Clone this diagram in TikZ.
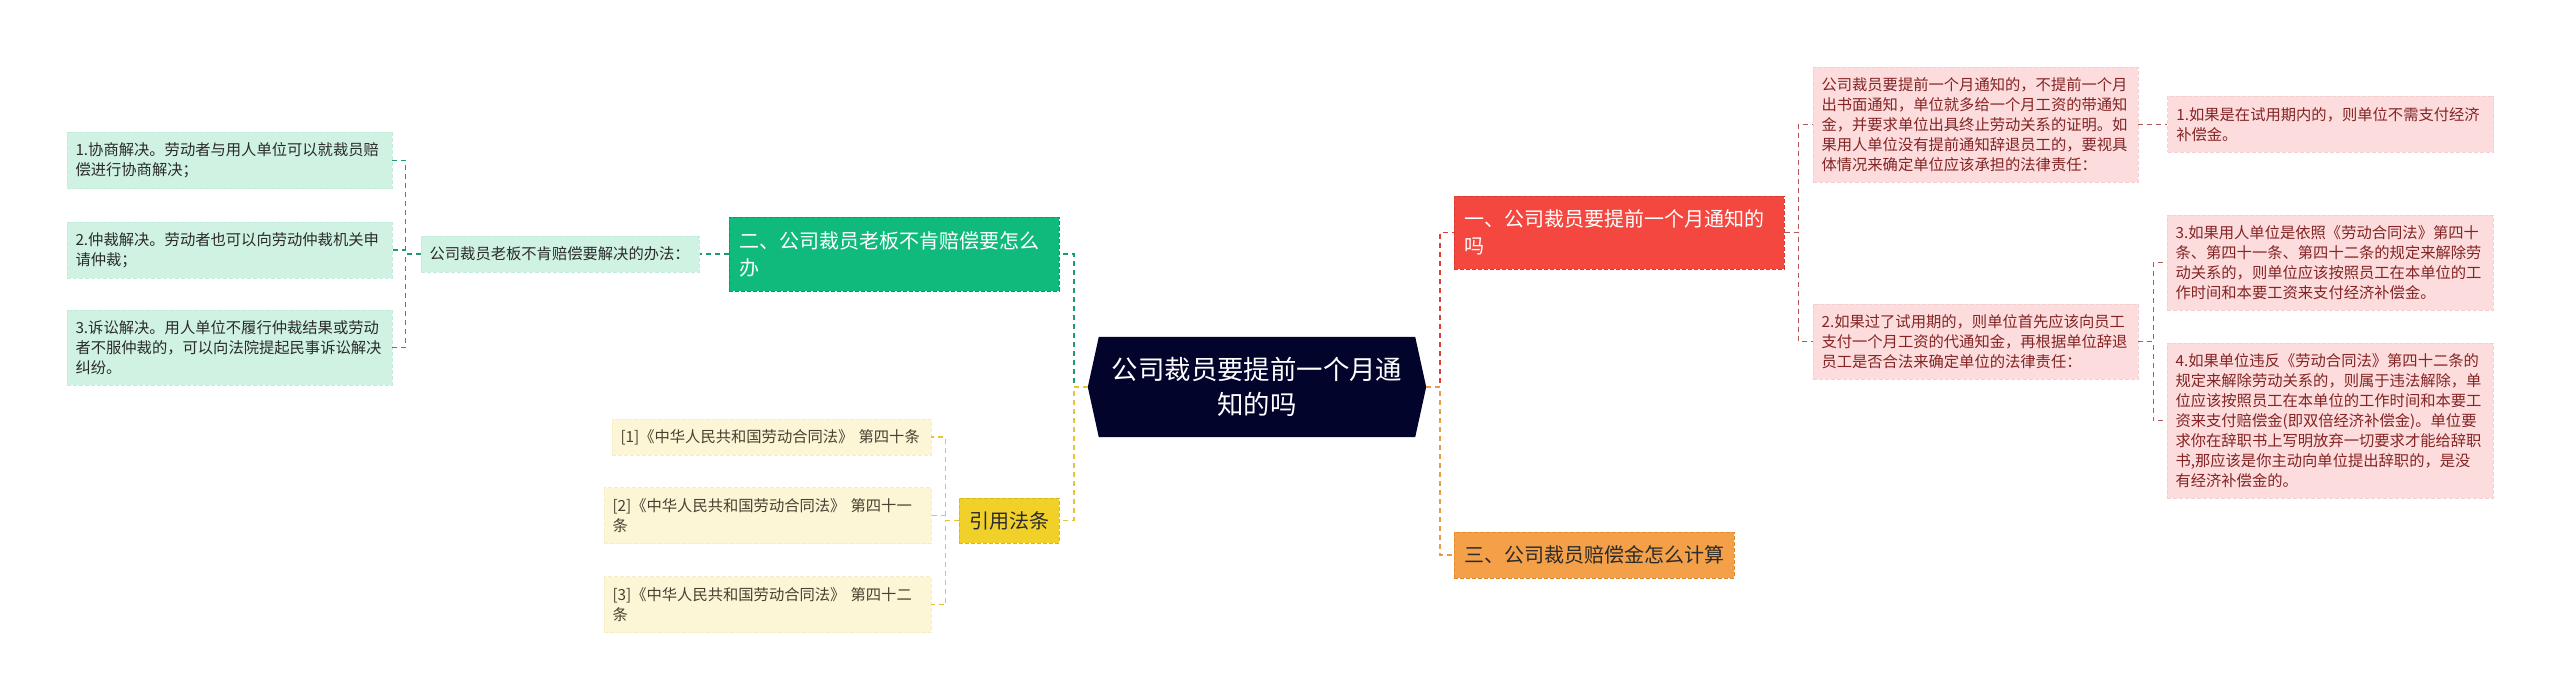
\documentclass[tikz,border=0pt]{standalone}
\usepackage{fontspec}
\setmainfont{Noto Sans CJK SC}
\usepackage{tikz}
\usetikzlibrary{positioning,backgrounds}
\usepackage{xcolor}
\definecolor{hubnavy}{HTML}{02042B}
\definecolor{topicred}{HTML}{F4473F}
\definecolor{topicredline}{HTML}{D63A33}
\definecolor{topicgreen}{HTML}{10BA7C}
\definecolor{topicgreenline}{HTML}{0A9A66}
\definecolor{topicorange}{HTML}{F4A048}
\definecolor{topicorangeline}{HTML}{E08A30}
\definecolor{topicyellow}{HTML}{F2D02A}
\definecolor{topicyellowline}{HTML}{D9B81E}
\definecolor{leafred}{HTML}{FCDCDC}
\definecolor{leafredline}{HTML}{F5CFCF}
\definecolor{leafredtext}{HTML}{842424}
\definecolor{leafgreen}{HTML}{CFF2E3}
\definecolor{leafgreenline}{HTML}{C2EBD9}
\definecolor{leafyellow}{HTML}{FCF5D6}
\definecolor{leafyellowline}{HTML}{F5EDC8}
\definecolor{leafyellowtext}{HTML}{4A4030}
\definecolor{darktext}{HTML}{2B2B2B}
\definecolor{linkred}{HTML}{DC4038}
\definecolor{linkredleaf}{HTML}{B45858}
\definecolor{linkgreen}{HTML}{1A9E6A}
\definecolor{linkyellow}{HTML}{E6C535}
\definecolor{linkorange}{HTML}{E89B4C}
\newcommand{\leaffont}{\fontsize{15.3}{20}\selectfont}
\newcommand{\topicfont}{\fontsize{20}{27}\selectfont}
\newcommand{\hubfont}{\fontsize{26.4}{35}\selectfont}
\tikzset{
  hub/.style={align=center, text=white, font=\hubfont, inner sep=0pt, minimum width=316pt, minimum height=100pt},
  topic/.style={draw, dash pattern=on 4pt off 2pt, line width=1pt, align=left, inner xsep=10pt, inner ysep=0pt, font=\topicfont},
  redtopic/.style={topic, fill=topicred, draw=topicredline, text=white},
  greentopic/.style={topic, fill=topicgreen, draw=topicgreenline, text=white},
  orangetopic/.style={topic, fill=topicorange, draw=topicorangeline, text=darktext},
  yellowtopic/.style={topic, fill=topicyellow, draw=topicyellowline, text=darktext, align=center},
  leaf/.style={draw, dash pattern=on 4pt off 2pt, line width=0.8pt, align=left, inner xsep=8.5pt, inner ysep=0pt, font=\leaffont},
  redleaf/.style={leaf, fill=leafred, draw=leafredline, text=leafredtext},
  greenleaf/.style={leaf, fill=leafgreen, draw=leafgreenline, text=darktext},
  yellowleaf/.style={leaf, fill=leafyellow, draw=leafyellowline, text=leafyellowtext},
  link/.style={dash pattern=on 5pt off 4pt, line width=1.5pt},
  thinlink/.style={dash pattern=on 5pt off 4pt, line width=1.3pt}
}
\begin{document}
\begin{tikzpicture}[x=1pt, y=-1pt]
\useasboundingbox (0,0) rectangle (2560,698);
% centre
\node[hub] (hub) at (1257,387) {公司裁员要提前一个月通\\知的吗};
\begin{scope}[on background layer]
\fill[hubnavy] ([xshift=-11pt]hub.west) -- (hub.north west) -- (hub.north east) -- ([xshift=11pt]hub.east) -- (hub.south east) -- (hub.south west) -- cycle;
\end{scope}
\coordinate (hubW) at ([xshift=-11pt]hub.west);
\coordinate (hubE) at ([xshift=11pt]hub.east);

% right side
\node[redtopic, text width=310pt, minimum width=330pt, minimum height=73pt] (t1) at (1619,232.5) {一、公司裁员要提前一个月通知的\\吗};
\node[orangetopic, text width=260pt, minimum width=280pt, minimum height=46pt] (t3) at (1594,555) {三、公司裁员赔偿金怎么计算};
\node[redleaf, text width=308pt, minimum width=325pt, minimum height=115pt] (a0) at (1975.5,124.5) {公司裁员要提前一个月通知的，不提前一个月\\出书面通知，单位就多给一个月工资的带通知\\金，并要求单位出具终止劳动关系的证明。如\\果用人单位没有提前通知辞退员工的，要视具\\体情况来确定单位应该承担的法律责任：};
\node[redleaf, text width=309pt, minimum width=326pt, minimum height=56pt, right=29pt of a0] (a1) {1.如果是在试用期内的，则单位不需支付经济\\补偿金。};
\node[redleaf, text width=308pt, minimum width=325pt, minimum height=75pt] (b0) at (1975.5,341.5) {2.如果过了试用期的，则单位首先应该向员工\\支付一个月工资的代通知金，再根据单位辞退\\员工是否合法来确定单位的法律责任：};
\node[redleaf, text width=309pt, minimum width=326pt, minimum height=95pt] (b3) at (2330,262.5) {3.如果用人单位是依照《劳动合同法》第四十\\条、第四十一条、第四十二条的规定来解除劳\\动关系的，则单位应该按照员工在本单位的工\\作时间和本要工资来支付经济补偿金。};
\node[redleaf, text width=309pt, minimum width=326pt, minimum height=155pt] (b4) at (2330,420.5) {4.如果单位违反《劳动合同法》第四十二条的\\规定来解除劳动关系的，则属于违法解除，单\\位应该按照员工在本单位的工作时间和本要工\\资来支付赔偿金(即双倍经济补偿金)。单位要\\求你在辞职书上写明放弃一切要求才能给辞职\\书,那应该是你主动向单位提出辞职的，是没\\有经济补偿金的。};

% left side
\node[greentopic, text width=310pt, minimum width=330pt, minimum height=74pt] (t2) at (894,254) {二、公司裁员老板不肯赔偿要怎么\\办};
\node[greenleaf, text width=261pt, minimum width=278pt, minimum height=36pt, left=29pt of t2] (m2) {公司裁员老板不肯赔偿要解决的办法：};
\node[greenleaf, text width=308pt, minimum width=325pt, minimum height=56pt] (s1) at (229.5,160.5) {1.协商解决。劳动者与用人单位可以就裁员赔\\偿进行协商解决；};
\node[greenleaf, text width=308pt, minimum width=325pt, minimum height=56pt] (s2) at (229.5,250) {2.仲裁解决。劳动者也可以向劳动仲裁机关申\\请仲裁；};
\node[greenleaf, text width=308pt, minimum width=325pt, minimum height=75pt] (s3) at (229.5,347.5) {3.诉讼解决。用人单位不履行仲裁结果或劳动\\者不服仲裁的，可以向法院提起民事诉讼解决\\纠纷。};
\node[yellowtopic, minimum width=100pt, minimum height=45pt] (t4) at (1009,520.5) {引用法条};
\node[yellowleaf, text width=302pt, minimum width=319pt, minimum height=36pt] (c1) at (771.5,437) {[1]《中华人民共和国劳动合同法》 第四十条};
\node[yellowleaf, text width=310pt, minimum width=327pt, minimum height=56pt] (c2) at (767.5,515.5) {[2]《中华人民共和国劳动合同法》 第四十一\\条};
\node[yellowleaf, text width=310pt, minimum width=327pt, minimum height=56pt] (c3) at (767.5,604.5) {[3]《中华人民共和国劳动合同法》 第四十二\\条};

% links
\draw[link, linkred] (hubE) -- ++(14,0) |- (t1.west);
\draw[link, linkorange] (hubE) -- ++(14,0) |- (t3.west);
\draw[link, linkgreen] (hubW) -- ++(-14,0) |- (t2.east);
\draw[link, linkyellow] (hubW) -- ++(-14,0) |- (t4.east);
\foreach \n in {a0,b0}
  \draw[thinlink, linkredleaf] (t1.east) -- ++(14,0) |- (\n.west);
\draw[thinlink, linkredleaf] (a0.east) -- (a1.west);
\foreach \n in {b3,b4}
  \draw[thinlink, linkredleaf] (b0.east) -- ++(15,0) |- (\n.west);
\draw[thinlink, linkgreen] (t2.west) -- (m2.east);
\foreach \n in {s1,s2,s3}
  \draw[thinlink, linkgreen] (m2.west) -- ++(-15,0) |- (\n.east);
\foreach \n in {c1,c2,c3}
  \draw[thinlink, linkyellow] (t4.west) -- ++(-13,0) |- (\n.east);
\end{tikzpicture}
\end{document}
